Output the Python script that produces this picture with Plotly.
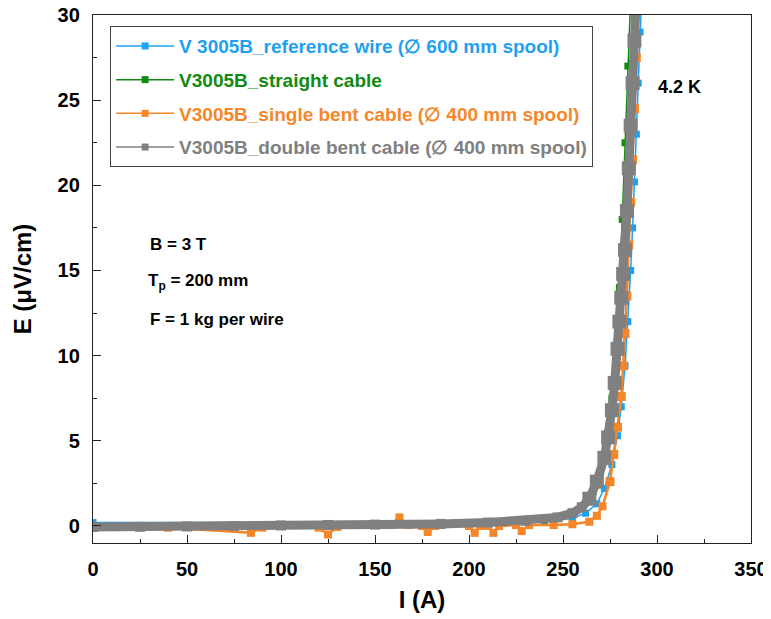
import plotly.graph_objects as go

# ---- data ----
ref_I = [0, 200, 240, 255, 262, 268, 272, 276, 279, 281, 283, 284.5, 286, 287, 288, 289, 290, 291, 292]
ref_E = [0.2, 0.2, 0.3, 0.45, 0.75, 1.3, 2.2, 3.6, 5.3, 7.0, 9.4, 12.0, 15.0, 17.5, 20.2, 23.0, 26.0, 29.0, 31.5]

str_I = [0, 50, 100, 150, 200, 240, 252, 260, 266, 270, 273, 276, 278, 280, 281.5, 283, 284.5, 286]
str_E = [0.0, 0.0, 0.05, 0.1, 0.2, 0.35, 0.6, 1.1, 2.0, 3.2, 4.8, 7.5, 10.5, 14.0, 18.0, 22.5, 27.0, 31.0]

sgl_I = [0, 40, 84, 90, 120, 125, 130, 158, 163, 168, 175, 178, 182, 200, 203, 206, 210, 213, 216, 225, 228, 232, 245, 255, 264, 268, 271, 275, 277, 279, 281, 282, 283, 284, 285, 286, 287, 288, 289, 290]
sgl_E = [-0.1, -0.1, -0.4, -0.1, -0.1, -0.5, -0.05, 0.05, 0.5, 0.05, 0.0, -0.35, 0.0, 0.0, -0.4, 0.0, 0.0, -0.4, 0.0, 0.05, -0.3, 0.05, 0.05, 0.1, 0.25, 0.6, 1.15, 2.6, 4.2, 5.8, 7.6, 9.4, 11.3, 13.5, 16.5, 19.0, 21.5, 24.5, 27.5, 30.5]

dbl_I = [0, 25, 50, 75, 100, 125, 150, 185, 210, 230, 247, 255, 260, 264, 268, 272, 274, 276, 277.5, 279, 280, 281, 282, 283, 284, 285, 286, 287, 288, 289]
dbl_E = [-0.06, -0.05, -0.03, 0.0, 0.03, 0.06, 0.08, 0.12, 0.2, 0.3, 0.5, 0.75, 1.1, 1.6, 2.6, 4.0, 5.2, 6.8, 8.4, 10.4, 12.0, 13.4, 14.8, 16.2, 18.5, 21.0, 23.5, 26.0, 28.5, 31.0]

series_names = [
    "V 3005B_reference wire (\u2205 600 mm spool)",
    "V3005B_straight cable",
    "V3005B_single bent cable (\u2205 400 mm spool)",
    "V3005B_double bent cable (\u2205 400 mm spool)",
]

x_ticks = [0, 50, 100, 150, 200, 250, 300, 350]
y_ticks = [0, 5, 10, 15, 20, 25, 30]

FONT = "Liberation Sans, Arial, sans-serif"
colors = ["#1EA0F0", "#108A10", "#F5862A", "#808080"]

data = [(ref_I, ref_E), (str_I, str_E), (sgl_I, sgl_E), (dbl_I, dbl_E)]
band = {2: (2.5, 8, 9), 3: (9, 10, 14)}  # thick underlay: line width, flat marker size, steep marker size

fig = go.Figure()
for i, (xs, ys) in enumerate(data):
    if i in band:
        w, ms_flat, ms_steep = band[i]
        fig.add_trace(go.Scatter(
            x=xs, y=ys, mode="lines+markers", showlegend=False, hoverinfo="skip",
            line=dict(color=colors[i], width=w),
            marker=dict(symbol="square", color=colors[i], opacity=1,
                        line=dict(width=0),
                        size=[ms_steep if e > 1.5 else ms_flat for e in ys]),
        ))
    fig.add_trace(go.Scatter(
        x=xs, y=ys, mode="lines+markers",
        name="<b><span style='color:%s'>%s</span></b>" % (colors[i], series_names[i]),
        legendgroup="g%d" % i,
        line=dict(color=colors[i], width=1.5),
        marker=dict(symbol="square", size=7, color=colors[i], line=dict(width=0)),
    ))

axis_common = dict(
    showline=True, linecolor="#222", linewidth=1.3, mirror=True,
    ticks="inside", ticklen=8, tickwidth=1.3, tickcolor="#222",
    showgrid=False, zeroline=False, automargin=False, tickmode="array",
    tickfont=dict(family=FONT, size=20, color="black"),
    ticklabelstandoff=8, ticklabeloverflow="allow",
)

fig.update_xaxes(
    range=[0, 350], tickvals=x_ticks, ticktext=[f"<b>{v}</b>" for v in x_ticks],
    minor=dict(ticks="inside", ticklen=4, tickwidth=1.2, tickcolor="#222", dtick=25, tick0=0),
    title=dict(text="<b>I (A)</b>", font=dict(family=FONT, size=24, color="black"), standoff=12),
    **axis_common,
)
fig.update_yaxes(
    range=[-1, 30], tickvals=y_ticks, ticktext=[f"<b>{v}</b>" for v in y_ticks],
    minor=dict(ticks="inside", ticklen=4, tickwidth=1.2, tickcolor="#222", dtick=2.5, tick0=0),
    title=dict(text="<b>E (\u03bcV/cm)</b>", font=dict(family=FONT, size=24, color="black"), standoff=19),
    **axis_common,
)

ann_font = dict(family=FONT, size=17, color="black")
fig.add_annotation(x=312, y=25.8, text="<b>4.2 K</b>", showarrow=False,
                   font=dict(family=FONT, size=18, color="black"))
fig.add_annotation(x=29, y=16.5, text="<b>B = 3 T</b>", showarrow=False, xanchor="left", font=ann_font)
fig.add_annotation(x=28, y=14.3, text="<b>T<sub>p</sub> = 200 mm</b>", showarrow=False, xanchor="left", font=ann_font)
fig.add_annotation(x=29, y=12.1, text="<b>F = 1 kg per wire</b>", showarrow=False, xanchor="left", font=ann_font)

# the page body has an 8px margin, so the figure is 8px smaller and margins shifted
fig.update_layout(
    width=763, height=611,
    margin=dict(l=85, r=20, t=7, b=76),
    paper_bgcolor="white", plot_bgcolor="white",
    font=dict(family=FONT, size=19, color="black"),
    showlegend=True,
    legend=dict(
        x=0.026, y=0.979, xanchor="left", yanchor="top",
        bgcolor="white", bordercolor="#444", borderwidth=1,
        font=dict(family=FONT, size=19),
        tracegroupgap=6, itemwidth=58,
    ),
)

fig.write_html("out.html")
